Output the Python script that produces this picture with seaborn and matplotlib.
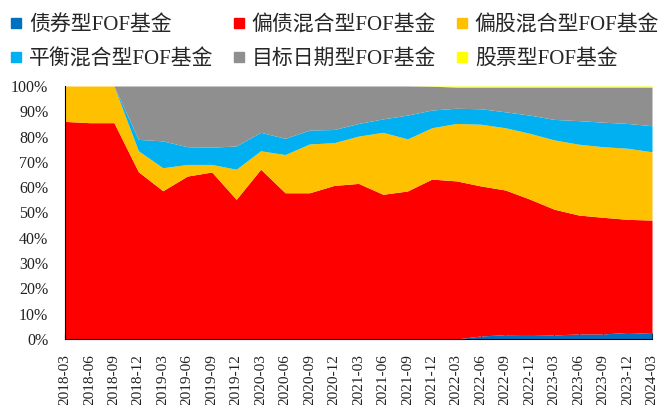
import matplotlib
matplotlib.use("Agg")
import matplotlib.pyplot as plt
from matplotlib.lines import Line2D
import seaborn as sns
import numpy as np

quarters = ["2018-03", "2018-06", "2018-09", "2018-12", "2019-03", "2019-06", "2019-09",
            "2019-12", "2020-03", "2020-06", "2020-09", "2020-12", "2021-03", "2021-06",
            "2021-09", "2021-12", "2022-03", "2022-06", "2022-09", "2022-12", "2023-03",
            "2023-06", "2023-09", "2023-12", "2024-03"]

bond = [0, 0, 0, 0, 0, 0, 0, 0, 0, 0, 0, 0, 0, 0, 0, 0, 0, 1.2, 1.7, 1.8, 1.6, 2.0, 2.0, 2.6, 2.2]
debt_mixed = [86.0, 85.5, 85.5, 66.1, 58.6, 64.4, 66.0, 55.2, 67.1, 57.8, 57.8, 60.7, 61.5,
              57.2, 58.5, 63.2, 62.5, 59.3, 57.2, 53.5, 49.7, 47.0, 46.1, 44.7, 44.8]
equity_mixed = [14.0, 14.5, 14.5, 8.3, 9.1, 4.6, 3.0, 11.9, 7.3, 15.1, 19.3, 16.9, 18.7,
                24.5, 20.6, 20.3, 22.7, 24.4, 24.6, 26.0, 27.4, 28.0, 27.9, 28.1, 27.0]
balanced = [0, 0, 0, 4.5, 10.6, 7.0, 6.8, 9.2, 7.3, 6.4, 5.5, 5.2, 5.0, 5.3, 9.4, 7.0,
            6.0, 6.1, 6.3, 7.2, 8.1, 9.3, 9.7, 9.8, 10.3]
stock = [0, 0, 0, 0, 0, 0, 0, 0, 0, 0, 0, 0, 0, 0, 0, 0.1, 0.4, 0.4, 0.4, 0.4, 0.4, 0.4, 0.4, 0.4, 0.4]
target_date = [100 - a - b - c - d - e for a, b, c, d, e in
               zip(bond, debt_mixed, equity_mixed, balanced, stock)]

names = ["债券型FOF基金", "偏债混合型FOF基金", "偏股混合型FOF基金",
         "平衡混合型FOF基金", "目标日期型FOF基金", "股票型FOF基金"]
colors = ["#0070C0", "#FF0000", "#FFC000", "#00B0F0", "#8F8F8F", "#FFFF00"]

sns.set_theme(style="white")
plt.rcParams['font.family'] = ['Liberation Serif', 'Noto Sans CJK SC']

fig = plt.figure(figsize=(6.61, 4.05), dpi=100)
ax = fig.add_axes([65/661, 1 - 339/405, (652 - 65)/661, (339 - 86)/405])

x = np.arange(len(quarters))
series = [bond, debt_mixed, equity_mixed, balanced, target_date, stock]
ax.stackplot(x, *series, colors=colors, linewidth=0)

ax.set_xlim(0, len(quarters) - 1)
ax.set_ylim(0, 100)
ax.set_yticks(np.arange(0, 101, 10))
ax.set_yticklabels([f"{v}%" for v in range(0, 101, 10)], fontsize=11.5, color="#222222")
ax.set_xticks(x)
ax.set_xticklabels(quarters, rotation=90, fontsize=11, color="#222222")
ax.tick_params(axis="y", length=0, pad=12)
ax.tick_params(axis="x", direction="in", length=4, width=0.8, color="black", pad=11, bottom=True)

for side in ["top", "right"]:
    ax.spines[side].set_visible(False)
ax.spines["left"].set_color("black")
ax.spines["left"].set_linewidth(0.8)
ax.spines["bottom"].set_color("black")
ax.spines["bottom"].set_linewidth(0.8)
ax.grid(False)

handles = [Line2D([0], [0], marker="s", linestyle="none", markersize=7,
                  markerfacecolor=c, markeredgecolor=c) for c in colors]
# matplotlib fills legend columns first; reorder so rows read left-to-right
order = [0, 3, 1, 4, 2, 5]
fig.legend([handles[i] for i in order], [names[i] for i in order],
           loc="upper left", bbox_to_anchor=(0.0136, 0.963), ncol=3,
           frameon=False, fontsize=15, handletextpad=0.25, columnspacing=0.9,
           handlelength=0.7, labelspacing=0.68, borderaxespad=0, borderpad=0)

fig.savefig("out.png", dpi=100)
